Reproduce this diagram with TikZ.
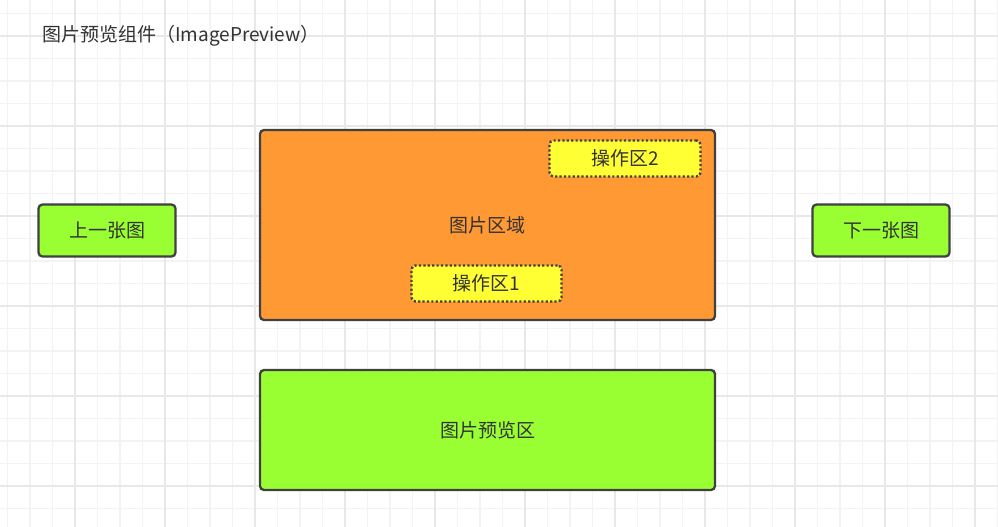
\documentclass[tikz,border=0pt]{standalone}
\usepackage{fontspec}
\setmainfont{Noto Sans CJK SC}
\definecolor{gridminor}{HTML}{F3F3F3}
\definecolor{gridmajor}{HTML}{E8E8E8}
\definecolor{bordc}{HTML}{404040}
\definecolor{textc}{HTML}{333333}
\definecolor{orangef}{HTML}{FF9933}
\definecolor{greenf}{HTML}{99FF33}
\definecolor{yellowf}{HTML}{FFFF33}
\tikzset{
  gminor/.style={draw=gridminor, line width=1.5pt},
  gmajor/.style={draw=gridmajor, line width=1.5pt},
  box/.style={draw=bordc, line width=2.3pt, rounded corners=4pt, text=textc,
    font=\fontsize{19}{22}\selectfont, inner sep=0pt},
  opbox/.style={draw=bordc, line width=2.4pt, dash pattern=on 2.2pt off 2.2pt,
    rounded corners=4pt, fill=yellowf, text=textc,
    font=\fontsize{19}{22}\selectfont, inner sep=0pt},
  titletext/.style={text=textc, font=\fontsize{19}{22}\selectfont, inner sep=0pt}
}
\begin{document}
\begin{tikzpicture}[x=1pt,y=-1pt]
\useasboundingbox (0,0) rectangle (998,527);
\fill[white] (0,0) rectangle (998,527);
% grid
\foreach \x in {7.5,30,...,998} \draw[gminor] (\x,0) -- (\x,527);
\foreach \y in {13.5,36,...,527} \draw[gminor] (0,\y) -- (998,\y);
\foreach \x in {75,165,...,998} \draw[gmajor] (\x,0) -- (\x,527);
\foreach \y in {36,126,...,527} \draw[gmajor] (0,\y) -- (998,\y);
% title
\node[titletext, anchor=west] (title) at (42,36) {图片预览组件（ImagePreview）};
% boxes
\node[box, fill=greenf, minimum width=137pt, minimum height=52pt] (prev) at (107,230.5) {上一张图};
\node[box, fill=greenf, minimum width=137pt, minimum height=52pt] (next) at (881,230.5) {下一张图};
\node[box, fill=orangef, minimum width=455pt, minimum height=190pt] (img) at (487.5,225) {图片区域};
\node[opbox, minimum width=151pt, minimum height=36pt] (op2) at (625,158.5) {操作区2};
\node[opbox, minimum width=150pt, minimum height=36pt] (op1) at (486.5,283.5) {操作区1};
\node[box, fill=greenf, minimum width=455pt, minimum height=120pt] (thumb) at (487.5,430) {图片预览区};
\end{tikzpicture}
\end{document}
